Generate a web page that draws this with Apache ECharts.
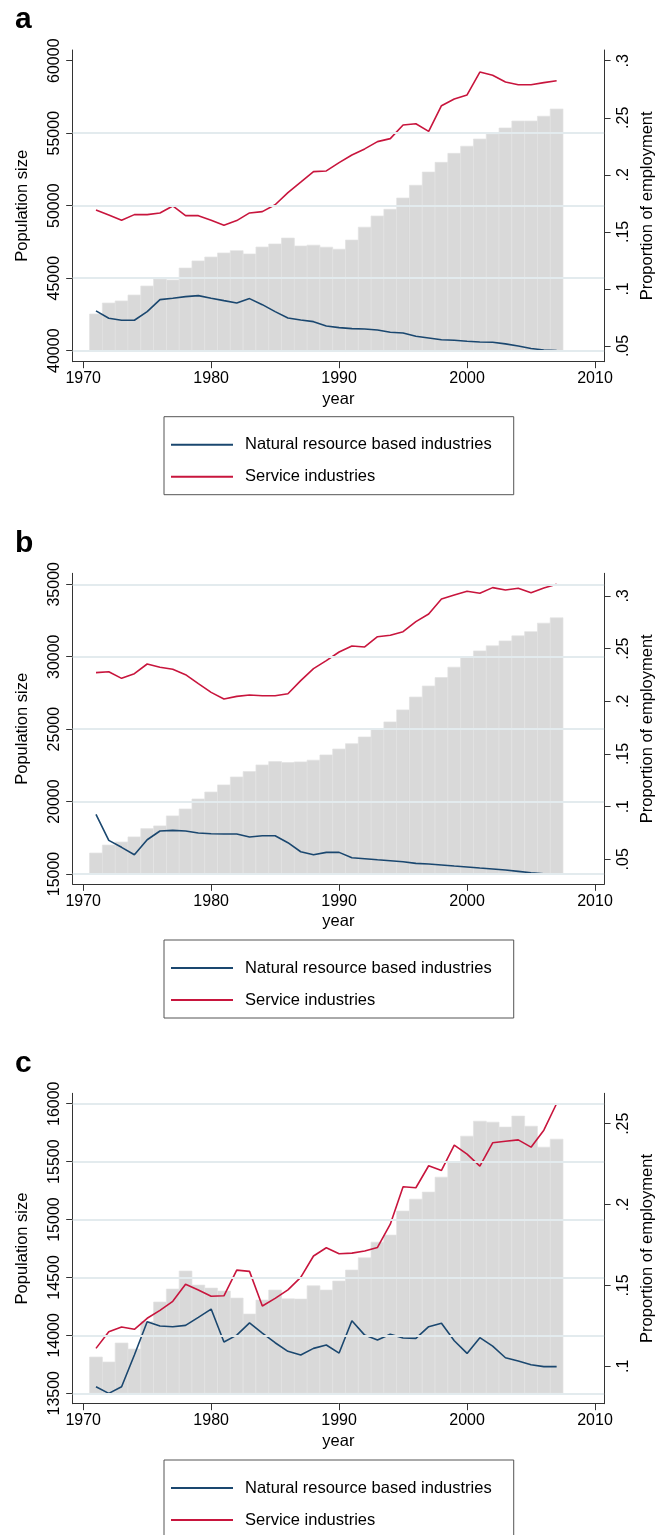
<!DOCTYPE html>
<html>
<head>
<meta charset="utf-8">
<script src="https://cdn.jsdelivr.net/npm/echarts@6/dist/echarts.min.js"></script>
<style>
  html, body { margin: 0; padding: 0; background: #fff; }
  #chart { width: 664px; height: 1535px; }
</style>
</head>
<body>
<div id="chart"></div>
<script>
// Years shared by the three panels
const years = [1971,1972,1973,1974,1975,1976,1977,1978,1979,1980,1981,1982,1983,1984,1985,1986,1987,1988,1989,1990,
  1991,1992,1993,1994,1995,1996,1997,1998,1999,2000,2001,2002,2003,2004,2005,2006,2007];

// Panel a
const popA = [42530,43290,43430,43840,44460,44940,44880,45700,46190,46460,46740,46900,46670,47150,47360,47770,47220,47280,47140,47000,
  47630,48520,49290,49750,50530,51410,52320,52990,53610,54100,54600,54950,55360,55840,55840,56170,56670];
const naturalA = [.0807,.0743,.0725,.0725,.0801,.0906,.0918,.0932,.0941,.0918,.0897,.0877,.0915,.0862,.0801,.0745,.0728,.0713,.0675,.0661,
  .0652,.0649,.0640,.0620,.0614,.0585,.0570,.0555,.0550,.0541,.0535,.0532,.0518,.0500,.0477,.0465,.0459];
const serviceA = [.1692,.1648,.1602,.1651,.1651,.1666,.1727,.1642,.1642,.1602,.1558,.1599,.1666,.1677,.1738,.1844,.1935,.2028,.2034,.2107,
  .2174,.2227,.2291,.2317,.2437,.2448,.2381,.2606,.2665,.2700,.2901,.2872,.2814,.2790,.2790,.2808,.2825];

// Panel b
const popB = [16450,17000,17210,17560,18130,18320,19010,19490,20180,20660,21150,21700,22070,22530,22760,22690,22740,22860,23220,23630,
  24000,24460,25010,25500,26330,27220,27980,28560,29280,29990,30400,30750,31090,31440,31730,32320,32690];
const naturalB = [.0927,.0680,.0614,.0544,.0686,.0769,.0775,.0769,.0750,.0743,.0740,.0740,.0712,.0724,.0724,.0658,.0572,.0544,.0566,.0566,
  .0515,.0506,.0496,.0487,.0477,.0462,.0455,.0446,.0436,.0427,.0417,.0408,.0398,.0386,.0373,.0363,.0360];
const serviceB = [.2272,.2281,.2218,.2262,.2354,.2323,.2304,.2253,.2167,.2085,.2022,.2047,.2060,.2053,.2053,.2072,.2196,.2310,.2386,.2468,
  .2525,.2516,.2613,.2627,.2661,.2756,.2829,.2971,.3009,.3044,.3025,.3079,.3057,.3073,.3031,.3076,.3111];

// Panel c
const popC = [13813,13770,13934,13882,14120,14288,14400,14555,14434,14408,14383,14322,14184,14305,14391,14316,14313,14428,14391,14469,
  14564,14670,14805,14866,15073,15176,15237,15366,15498,15720,15849,15841,15798,15893,15806,15625,15694];
const naturalC = [.0874,.0833,.0874,.1070,.1276,.1249,.1245,.1253,.1303,.1354,.1150,.1193,.1269,.1206,.1146,.1093,.1070,.1111,.1132,.1082,
  .1282,.1193,.1163,.1198,.1175,.1173,.1245,.1266,.1158,.1080,.1177,.1125,.1053,.1033,.1010,.0998,.0998];
const serviceC = [.1111,.1214,.1243,.1229,.1297,.1346,.1402,.1507,.1472,.1433,.1436,.1595,.1587,.1373,.1420,.1473,.1550,.1682,.1733,.1696,
  .1700,.1713,.1735,.1879,.2110,.2104,.2240,.2211,.2368,.2312,.2238,.2382,.2392,.2400,.2355,.2460,.2625];

// Tick labels
const yearTicks = [1970, 1980, 1990, 2000, 2010];
const popTicksA = [40000, 45000, 50000, 55000, 60000];
const popTicksB = [15000, 20000, 25000, 30000, 35000];
const popTicksC = [13500, 14000, 14500, 15000, 15500, 16000];
const shareTicksA = [0.05, 0.1, 0.15, 0.2, 0.25, 0.3];
const shareTicksB = [0.05, 0.1, 0.15, 0.2, 0.25, 0.3];
const shareTicksC = [0.1, 0.15, 0.2, 0.25];
// Horizontal reference lines drawn across each plot
const gridLinesA = [40000, 45000, 50000, 55000];
const gridLinesB = [15000, 20000, 25000, 30000, 35000];
const gridLinesC = [13500, 14000, 14500, 15000, 15500, 16000];

const seriesNames = ['Natural resource based industries', 'Service industries'];
const panelLetters = ['a', 'b', 'c'];

const FONT = "'Liberation Sans', Arial, Helvetica, sans-serif";
const AXIS_COLOR = '#333333';
const NAVY = '#1a476f';
const CRIMSON = '#c8153d';
const BAR_FILL = '#d9d9d9';

// Layout of each panel (plot area in pixels and axis extents)
const panels = [
  { top: 50,     height: 311.7, pop: popA, nat: naturalA, serv: serviceA, base: 40000,
    popRange: [39241, 60738], shareRange: [0.0362, 0.3094],
    popTicks: popTicksA, shareTicks: shareTicksA, gridLines: gridLinesA },
  { top: 573.3,  height: 311,   pop: popB, nat: naturalB, serv: serviceB, base: 15000,
    popRange: [14289, 35760], shareRange: [0.0263, 0.3215],
    popTicks: popTicksB, shareTicks: shareTicksB, gridLines: gridLinesB },
  { top: 1093.3, height: 310.4, pop: popC, nat: naturalC, serv: serviceC, base: 13500,
    popRange: [13410, 16090], shareRange: [0.0769, 0.2688],
    popTicks: popTicksC, shareTicks: shareTicksC, gridLines: gridLinesC }
];

const PLOT_LEFT = 72.7;
const PLOT_RIGHT = 606;
const X_MIN = 1969.18, X_MAX = 2010.71;

const plainLabel = v => String(Math.round(v));
const shareLabel = v => String(+v.toFixed(2)).replace(/^0\./, '.');

const option = {
  animation: false,
  textStyle: { fontFamily: FONT },
  title: [], grid: [], xAxis: [], yAxis: [], legend: [], series: []
};

panels.forEach((p, i) => {
  option.grid.push({
    left: PLOT_LEFT, width: PLOT_RIGHT - PLOT_LEFT, top: p.top, height: p.height,
    containLabel: false
  });

  option.title.push({
    text: panelLetters[i], left: 15, top: p.top - 45, padding: 0,
    textStyle: { fontFamily: FONT, fontSize: 30, fontWeight: 'bold', color: '#000' }
  });

  option.xAxis.push({
    type: 'value', gridIndex: i, min: X_MIN, max: X_MAX,
    name: 'year', nameLocation: 'middle', nameGap: 29,
    nameTextStyle: { fontFamily: FONT, fontSize: 16.5, color: '#000' },
    axisLine: { show: true, onZero: false, lineStyle: { color: AXIS_COLOR, width: 1 } },
    axisTick: { show: true, length: 6.5, customValues: yearTicks, lineStyle: { color: AXIS_COLOR } },
    axisLabel: { customValues: yearTicks, fontSize: 16, color: '#000', margin: 9, fontFamily: FONT,
      formatter: plainLabel },
    splitLine: { show: false }
  });

  option.yAxis.push({
    type: 'value', gridIndex: i, position: 'left', min: p.popRange[0], max: p.popRange[1],
    name: 'Population size', nameLocation: 'middle', nameGap: 42, nameRotate: 90,
    nameTextStyle: { fontFamily: FONT, fontSize: 16.5, color: '#000' },
    axisLine: { show: true, onZero: false, lineStyle: { color: AXIS_COLOR, width: 1 } },
    axisTick: { show: true, length: 6.5, customValues: p.popTicks, lineStyle: { color: AXIS_COLOR } },
    axisLabel: { customValues: p.popTicks, rotate: 90, fontSize: 16, color: '#000', margin: 10,
      fontFamily: FONT, formatter: plainLabel },
    splitLine: { show: false }
  });

  option.yAxis.push({
    type: 'value', gridIndex: i, position: 'right', min: p.shareRange[0], max: p.shareRange[1],
    name: 'Proportion of employment', nameLocation: 'middle', nameGap: 29, nameRotate: 90,
    nameTextStyle: { fontFamily: FONT, fontSize: 16.5, color: '#000' },
    axisLine: { show: true, onZero: false, lineStyle: { color: AXIS_COLOR, width: 1 } },
    axisTick: { show: true, length: 6.5, customValues: p.shareTicks, lineStyle: { color: AXIS_COLOR } },
    axisLabel: { customValues: p.shareTicks, rotate: 90, fontSize: 16, color: '#000', margin: 11,
      fontFamily: FONT, formatter: shareLabel },
    splitLine: { show: false }
  });

  const legendTop = p.top + 366.7;
  option.legend.push({
    data: seriesNames, orient: 'vertical', left: 164, top: legendTop, height: 60,
    selectedMode: false, icon: 'rect', itemWidth: 62, itemHeight: 2, itemGap: 12,
    padding: [18, 22, 8, 7],
    borderColor: '#555', borderWidth: 1, backgroundColor: '#fff',
    textStyle: { fontFamily: FONT, fontSize: 16.5, color: '#000', lineHeight: 20, padding: [0, 0, 0, 7] }
  });

  // light horizontal reference lines behind the bars
  option.series.push({
    type: 'line', xAxisIndex: i, yAxisIndex: 2 * i, data: [], z: 1, silent: true,
    markLine: {
      silent: true, symbol: ['none', 'none'], label: { show: false },
      lineStyle: { color: '#e3ebee', width: 1.8, type: 'solid' },
      data: p.gridLines.map(v => ({ yAxis: v }))
    }
  });

  // population bars, one per year, from the base value up
  const base = p.base;
  option.series.push({
    type: 'custom', name: 'Population size', xAxisIndex: i, yAxisIndex: 2 * i, z: 2,
    data: years.map((y, k) => [y, p.pop[k]]),
    encode: { x: 0, y: 1 },
    renderItem: (params, api) => {
      const x = api.value(0), v = api.value(1);
      const p0 = api.coord([x - 0.5, base]);
      const p1 = api.coord([x + 0.5, v]);
      return {
        type: 'rect',
        shape: { x: p0[0], y: p1[1], width: p1[0] - p0[0], height: p0[1] - p1[1] },
        style: { fill: BAR_FILL, stroke: '#e3e3e3', lineWidth: 0.7 }
      };
    }
  });

  option.series.push({
    type: 'line', name: seriesNames[0], xAxisIndex: i, yAxisIndex: 2 * i + 1, z: 3,
    data: years.map((y, k) => [y, p.nat[k]]),
    symbol: 'none', color: NAVY, itemStyle: { color: NAVY },
    lineStyle: { color: NAVY, width: 1.6 }
  });
  option.series.push({
    type: 'line', name: seriesNames[1], xAxisIndex: i, yAxisIndex: 2 * i + 1, z: 3,
    data: years.map((y, k) => [y, p.serv[k]]),
    symbol: 'none', color: CRIMSON, itemStyle: { color: CRIMSON },
    lineStyle: { color: CRIMSON, width: 1.6 }
  });
});

const chart = echarts.init(document.getElementById('chart'), null, { renderer: 'canvas' });
chart.setOption(option);
</script>
</body>
</html>
